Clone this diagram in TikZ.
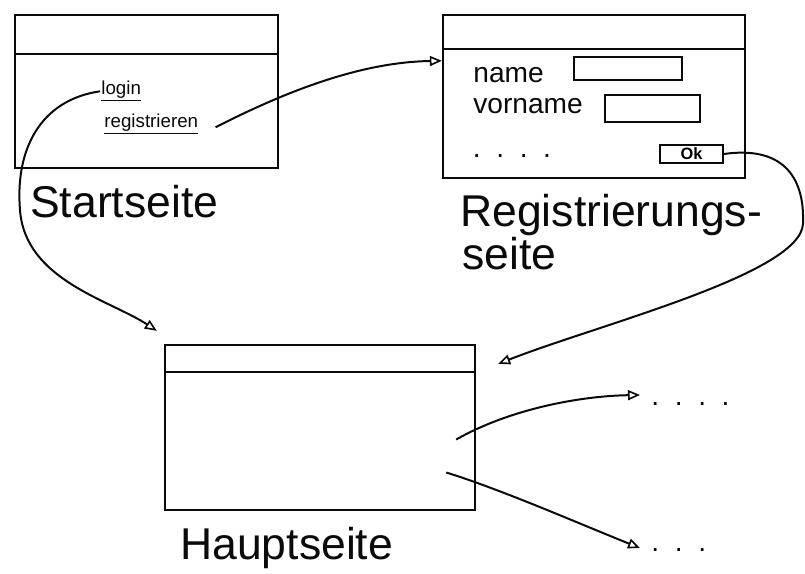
\documentclass[tikz,border=0pt]{standalone}
\usepackage{fontspec}
\setmainfont{Liberation Sans}
\usetikzlibrary{arrows.meta,calc}
\definecolor{ink}{RGB}{10,10,10}
\tikzset{
  >={Triangle[open,length=3.6mm,width=3mm,line width=1.4pt]},
  window/.style 2 args={draw=ink,line width=2pt,inner sep=0pt,
    minimum width=#1,minimum height=#2},
  field/.style 2 args={draw=ink,line width=1.5pt,inner sep=0pt,
    minimum width=#1,minimum height=#2},
  button/.style={draw=ink,line width=1.5pt,inner sep=0pt,minimum width=18.9mm,
    minimum height=5.4mm,font=\fontsize{14}{16}\selectfont\bfseries},
  link/.style={text=ink,inner sep=1pt,font=\fontsize{16}{18}\selectfont},
  formtext/.style={text=ink,inner sep=1pt,font=\fontsize{24}{28}\selectfont},
  caption/.style={text=ink,inner sep=0pt,font=\fontsize{38}{42}\selectfont},
  flow/.style={->,line width=1.7pt,draw=ink},
}
\begin{document}
\begin{tikzpicture}[x=0.3mm,y=0.3mm]
  \useasboundingbox[fill=white] (0,0) rectangle (805,574);
  % the three pages
  \node[window={78.9mm}{45.9mm}] (start) at (146.5,482.5) {};
  \node[window={90.6mm}{48.9mm}] (reg) at (594,477.5) {};
  \node[window={93mm}{49.5mm}] (main) at (320,146.5) {};
  \foreach \w/\d in {start/40,reg/35,main/28}
    \draw[ink,line width=2pt] ([shift={(0,-\d)}]\w.north west) -- ([shift={(0,-\d)}]\w.north east);

  % start page
  \node[link,anchor=base west] (login) at (100,479) {\underline{login}};
  \node[link,anchor=base west] (signup) at (103,446) {\underline{registrieren}};
  \node[caption,anchor=base west] (startcap) at (30,356) {Startseite};

  % sign-up form
  \node[formtext,anchor=base west] (name) at (472,491) {name};
  \node[field={32.4mm}{6.9mm}] (namefield) at (628,505.5) {};
  \node[formtext,anchor=base west] (vorname) at (472,460) {vorname};
  \node[field={28.5mm}{8.1mm}] (vornamefield) at (652.5,465.5) {};
  \node[formtext] (more) at (512,418) {.\ \ .\ \ .\ \ .};
  \node[button] (ok) at (691.5,420) {Ok};
  \node[caption,anchor=base west] (regcap) at (460,347) {Registrierungs-};
  \node[caption,anchor=base west] (regcap2) at (462,304) {seite};

  % main page
  \node[caption,anchor=base west] (maincap) at (180,14) {Hauptseite};
  \coordinate (next1) at (640,179);
  \coordinate (next2) at (640,26);
  \node[formtext,anchor=west] (more1) at (650,170) {.\ \ .\ \ .\ \ .};
  \node[formtext,anchor=west] (more2) at (650,24) {.\ \ .\ \ .};

  % navigation
  \draw[flow] (login.west) .. controls (40,474) and (15,424) .. (20,364)
    .. controls (25,294) and (110,274) .. ([shift={(-7,13)}]main.north west);
  \draw[flow] ([shift={(16,-3)}]signup.east) .. controls (300,490) and (370,512) .. ([shift={(0,-47)}]reg.north west);
  \draw[flow] (ok.east) .. controls (780,428) and (805,400) .. (803,350)
    .. controls (800,300) and (600,250) .. ([shift={(22,-20)}]main.north east);
  \draw[flow] ([shift={(-20,-12)}]main.east) .. controls (510,165) and (580,178) .. (next1);
  \draw[flow] ([shift={(-30,-45)}]main.east) .. controls (500,85) and (580,50) .. (next2);
\end{tikzpicture}
\end{document}
